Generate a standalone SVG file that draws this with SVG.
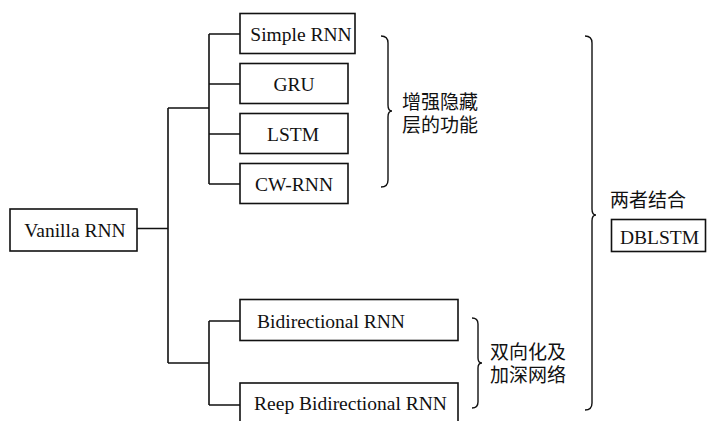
<svg xmlns="http://www.w3.org/2000/svg" width="707" height="421" viewBox="0 0 707 421">
<style>
.box{fill:#fff;stroke:#111;stroke-width:1.6}
.ln{fill:none;stroke:#111;stroke-width:1.6}
.br{fill:none;stroke:#111;stroke-width:1.4}
.t{font-family:"Liberation Serif","Times New Roman",serif;font-size:19.5px;fill:#111}
.c{font-family:"Noto Sans CJK SC","Noto Sans",sans-serif;font-size:19px;fill:#111}
</style>
<rect width="707" height="421" fill="#fff"/>
<g id="connectors">
<path class="ln" d="M137 228.5H168M168 108V363M168 108H209M209 34V184M209 34H240M209 84H240M209 134H240M209 184H240M168 363H209M209 321V405M209 321H240M209 405H240"/>
</g>
<g id="vanilla"><rect class="box" x="10" y="209" width="127" height="42"/><text class="t" x="75" y="237" text-anchor="middle">Vanilla RNN</text></g>
<g id="simple"><rect class="box" x="240" y="13.5" width="115" height="40"/><text class="t" x="301" y="40.5" text-anchor="middle">Simple RNN</text></g>
<g id="gru"><rect class="box" x="240" y="63.5" width="108" height="40"/><text class="t" x="294" y="91" text-anchor="middle">GRU</text></g>
<g id="lstm"><rect class="box" x="240" y="113.5" width="108" height="40"/><text class="t" x="293" y="141" text-anchor="middle">LSTM</text></g>
<g id="cwrnn"><rect class="box" x="240" y="163.5" width="108" height="40"/><text class="t" x="294" y="191" text-anchor="middle">CW-RNN</text></g>
<g id="bidir"><rect class="box" x="240" y="299.5" width="218" height="41"/><text class="t" x="331" y="327.5" text-anchor="middle">Bidirectional RNN</text></g>
<g id="reep"><rect class="box" x="240" y="383" width="218" height="45"/><text class="t" x="350.5" y="410" text-anchor="middle">Reep Bidirectional RNN</text></g>
<g id="brace1"><path class="br" d="M381 36Q388 36 388 43V105Q388 111 392 111Q388 111 388 117V180Q388 187 381 187"/><text class="c" x="402" y="109">增强隐藏</text><text class="c" x="402" y="132">层的功能</text></g>
<g id="brace2"><path class="br" d="M472 318Q478 318 478 324V358Q478 363 482 363Q478 363 478 368V402Q478 408 472 408"/><text class="c" x="490" y="359">双向化及</text><text class="c" x="490" y="382">加深网络</text></g>
<g id="brace3"><path class="br" d="M585 36Q592 36 592 43V209Q592 215 596 215Q592 215 592 221V403Q592 410 585 410"/><text class="c" x="610" y="207">两者结合</text></g>
<g id="dblstm"><rect class="box" x="611.5" y="219.5" width="94" height="32"/><text class="t" x="620" y="244">DBLSTM</text></g>
</svg>
